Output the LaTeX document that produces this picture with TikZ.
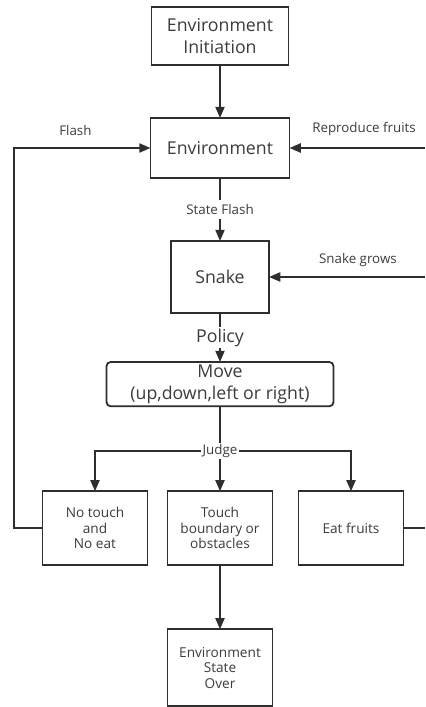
\documentclass[tikz,border=0pt]{standalone}
\usepackage{fontspec}
\setsansfont{Open Sans}
\usepackage{xcolor}
\usetikzlibrary{arrows.meta, positioning}
\definecolor{ink}{HTML}{3C3C3C}
\definecolor{wire}{HTML}{2E2E2E}

\begin{document}
\begin{tikzpicture}[
    font=\sffamily,
    box/.style={draw=wire, line width=1.3pt, align=center, fill=white, text=ink, inner sep=2pt, outer sep=0pt},
    bigtxt/.style={font=\sffamily\fontsize{12.6}{15.5}\selectfont},
    smalltxt/.style={font=\sffamily\fontsize{9.7}{11}\selectfont},
    lbl/.style={text=ink, font=\sffamily\fontsize{9.5}{11}\selectfont},
    flow/.style={draw=wire, line width=1.3pt, -{Triangle[length=8pt,width=6.5pt]}},
    wireline/.style={draw=wire, line width=1.3pt}
]
    \useasboundingbox (0,0) rectangle (10.625,-17.675);

    % Nodes
    \node[box, bigtxt, minimum width=3.425cm, minimum height=1.45cm] (init) at (5.5,-0.9) {Environment\\Initiation};
    \node[box, bigtxt, below=1.325cm of init, minimum width=3.475cm, minimum height=1.5cm] (env) {Environment};
    \node[box, bigtxt, below=1.575cm of env, minimum width=2.45cm, minimum height=1.8cm] (snake) {Snake};
    \node[box, bigtxt, below=1.225cm of snake, rounded corners=3pt, minimum width=5.675cm, minimum height=1.075cm] (move) {Move\\(up,down,left or right)};
    \node[box, smalltxt, below=2.125cm of move, minimum width=2.625cm, minimum height=1.85cm] (touch) {Touch\\boundary or\\obstacles};
    \node[box, smalltxt, left=0.5cm of touch, minimum width=2.625cm, minimum height=1.85cm] (notouch) {No touch\\and\\No eat};
    \node[box, smalltxt, right=0.65cm of touch, minimum width=2.625cm, minimum height=1.85cm] (eat) {Eat fruits};
    \node[box, smalltxt, below=1.6cm of touch, minimum width=2.625cm, minimum height=1.925cm] (over) {Environment\\State\\Over};

    \coordinate (redge) at (10.625,0);
    \coordinate (ledge) at (0.35,0);
    \coordinate[below=1.125cm of move] (jdg);

    % Connections
    \draw[flow] (init) -- (env);
    \draw[flow] (env) -- node[lbl, fill=white, midway] {State Flash} (snake);
    \draw[flow] (snake) -- node[lbl, bigtxt, fill=white, midway, inner sep=1pt] {Policy} (move);
    \draw[wireline] (move) -- (jdg);
    \draw[flow] (jdg) -| (notouch);
    \draw[flow] (jdg) -- (touch);
    \draw[flow] (jdg) -| (eat);
    \draw[flow] (touch) -- (over);
    \draw[flow] (notouch.west) -| (ledge |- env.west) -- node[lbl, above=5pt, pos=0.45] {Flash} (env.west);
    \draw[flow] (env.east -| redge) -- node[lbl, above=5pt, pos=0.45] {Reproduce fruits} (env.east);
    \draw[flow] (snake.east -| redge) -- node[lbl, above=3pt, pos=0.43] {Snake grows} (snake.east);
    \draw[wireline] (eat.east) -- (eat.east -| redge);

    % Labels
    \node[lbl, fill=white, inner sep=1pt] (judge) at (jdg) {Judge};
\end{tikzpicture}
\end{document}
